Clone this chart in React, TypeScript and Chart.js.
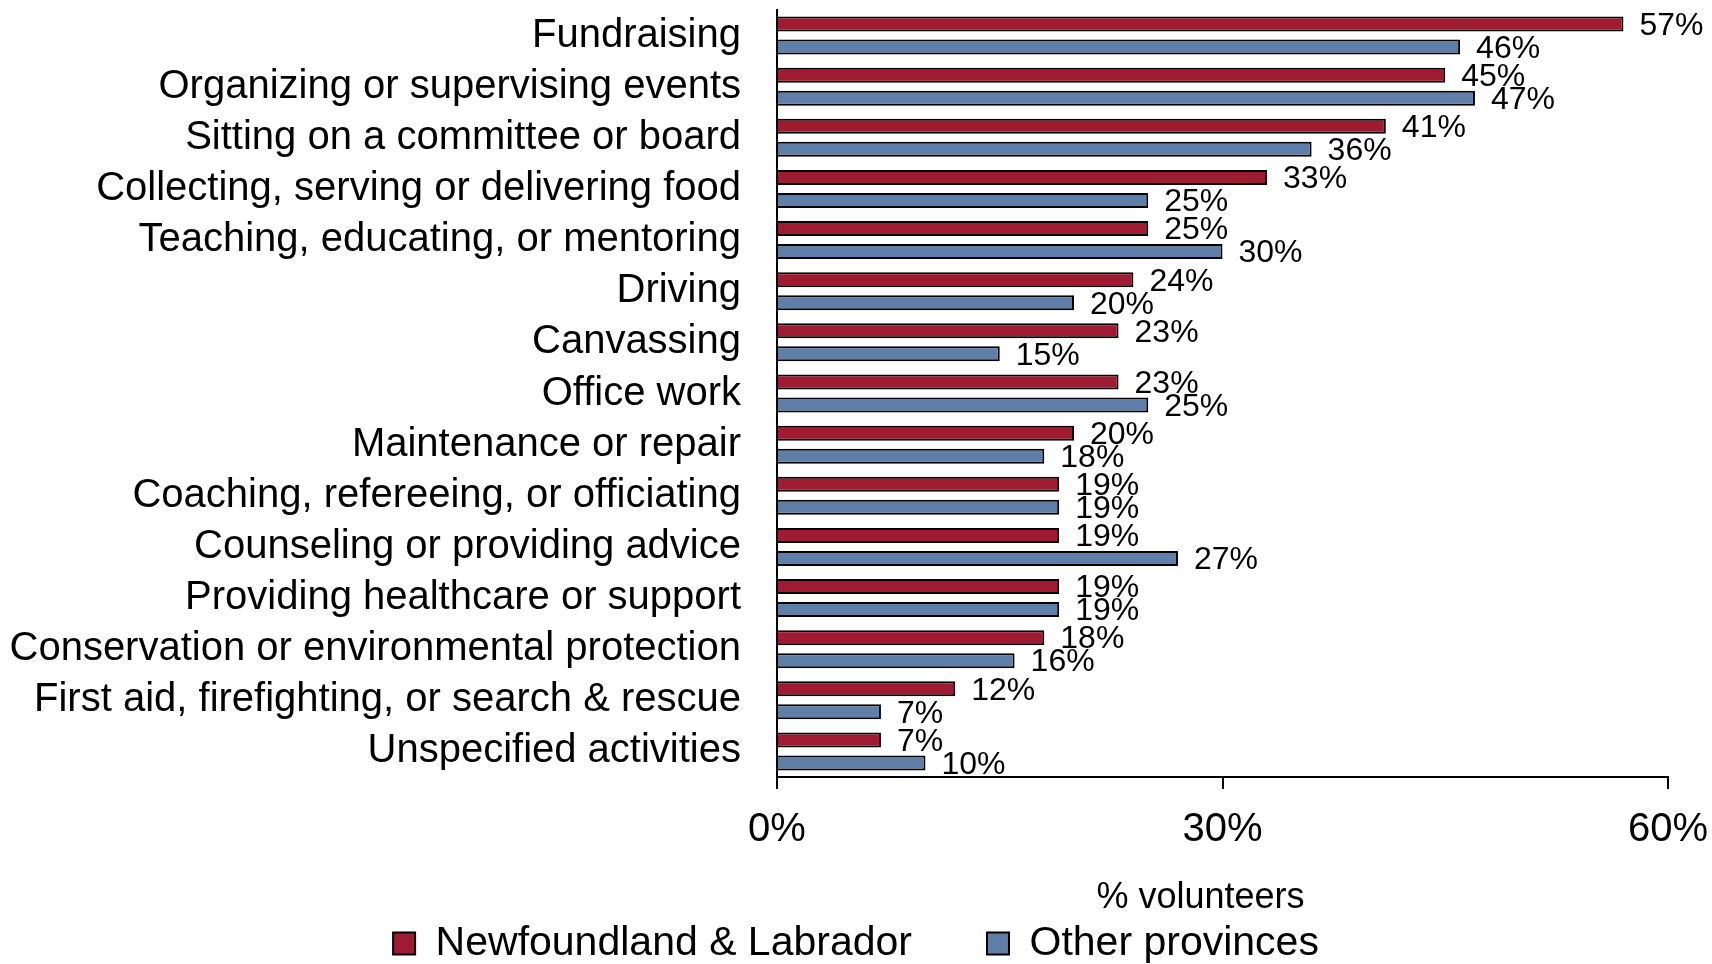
import React, { useEffect, useRef } from 'react';
import { Chart, registerables } from 'chart.js';

Chart.register(...registerables);

const categories = [
  'Fundraising',
  'Organizing or supervising events',
  'Sitting on a committee or board',
  'Collecting, serving or delivering food',
  'Teaching, educating, or mentoring',
  'Driving',
  'Canvassing',
  'Office work',
  'Maintenance or repair',
  'Coaching, refereeing, or officiating',
  'Counseling or providing advice',
  'Providing healthcare or support',
  'Conservation or environmental protection',
  'First aid, firefighting, or search & rescue',
  'Unspecified activities',
];
const nlValues = [57, 45, 41, 33, 25, 24, 23, 23, 20, 19, 19, 19, 18, 12, 7];
const otherValues = [46, 47, 36, 25, 30, 20, 15, 25, 18, 19, 27, 19, 16, 7, 10];
const seriesNames = ['Newfoundland & Labrador', 'Other provinces'];
const xTickValues = [0, 30, 60];
const axisTitle = '% volunteers';

const FONT = "'Liberation Sans', Arial, Helvetica, sans-serif";
const RED = '#9F1B32';
const BLUE = '#5F7FA8';

const valueLabels = {
  id: 'valueLabels',
  afterDatasetsDraw(chart: any) {
    const ctx = chart.ctx;
    ctx.save();
    ctx.font = `32px ${FONT}`;
    ctx.fillStyle = '#000';
    ctx.textAlign = 'left';
    ctx.textBaseline = 'middle';
    chart.data.datasets.forEach((ds: any, i: number) => {
      const meta = chart.getDatasetMeta(i);
      meta.data.forEach((bar: any, j: number) => {
        ctx.fillText(`${ds.data[j]}%`, bar.x + 16, bar.y + 2);
      });
    });
    ctx.restore();
  },
};

const xAxisTitle = {
  id: 'xAxisTitle',
  afterDraw(chart: any) {
    const { ctx, chartArea } = chart;
    ctx.save();
    ctx.font = `36px ${FONT}`;
    ctx.fillStyle = '#000';
    ctx.textAlign = 'center';
    ctx.textBaseline = 'middle';
    ctx.fillText(axisTitle, (chartArea.left + chartArea.right) / 2 - 22, chartArea.bottom + 121);
    ctx.restore();
  },
};

export default function App() {
  const ref = useRef<HTMLCanvasElement>(null);

  useEffect(() => {
    if (!ref.current) return;
    const chart = new Chart(ref.current, {
      type: 'bar',
      data: {
        labels: categories,
        datasets: [
          {
            label: seriesNames[0],
            data: nlValues,
            backgroundColor: RED,
            borderColor: '#000',
            borderWidth: 2,
            categoryPercentage: 0.9,
            barPercentage: 0.652,
          },
          {
            label: seriesNames[1],
            data: otherValues,
            backgroundColor: BLUE,
            borderColor: '#000',
            borderWidth: 2,
            categoryPercentage: 0.9,
            barPercentage: 0.652,
          },
        ],
      },
      options: {
        indexAxis: 'y',
        animation: false,
        responsive: false,
        maintainAspectRatio: false,
        devicePixelRatio: 1,
        layout: { padding: { top: 10, left: 0, right: 0, bottom: 0 } },
        scales: {
          x: {
            min: 0,
            max: 60,
            afterBuildTicks: (s: any) => {
              s.ticks = xTickValues.map((v) => ({ value: v }));
            },
            afterFit: (s: any) => {
              s.height = 71;
              s.paddingLeft = 0;
              s.paddingRight = 44;
            },
            grid: {
              drawOnChartArea: false,
              drawTicks: true,
              tickLength: 12,
              color: '#000',
              lineWidth: 2,
            },
            border: { display: true, color: '#000', width: 2 },
            ticks: {
              color: '#000',
              font: { size: 40, family: FONT },
              padding: 17,
              maxRotation: 0,
              callback: (v: any) => `${v}%`,
            },
          },
          y: {
            afterFit: (s: any) => {
              s.width = 777;
              s.paddingTop = 0;
              s.paddingBottom = 0;
            },
            grid: { display: false, drawTicks: false },
            border: { display: true, color: '#000', width: 2 },
            ticks: {
              color: '#000',
              font: { size: 40, family: FONT },
              padding: 36,
              autoSkip: false,
            },
          },
        },
        plugins: {
          legend: {
            position: 'bottom',
            labels: {
              color: '#000',
              font: { size: 41, family: FONT },
              boxWidth: 22,
              boxHeight: 22,
              padding: 75,
            },
          },
          tooltip: { enabled: false },
        },
      },
      plugins: [valueLabels, xAxisTitle],
    } as any);
    return () => chart.destroy();
  }, []);

  return (
    <div
      style={{
        position: 'absolute',
        left: 0,
        top: 0,
        width: 1712,
        height: 964,
        overflow: 'hidden',
        background: '#fff',
      }}
    >
      <canvas ref={ref} width={1712} height={974} style={{ display: 'block' }} />
    </div>
  );
}
